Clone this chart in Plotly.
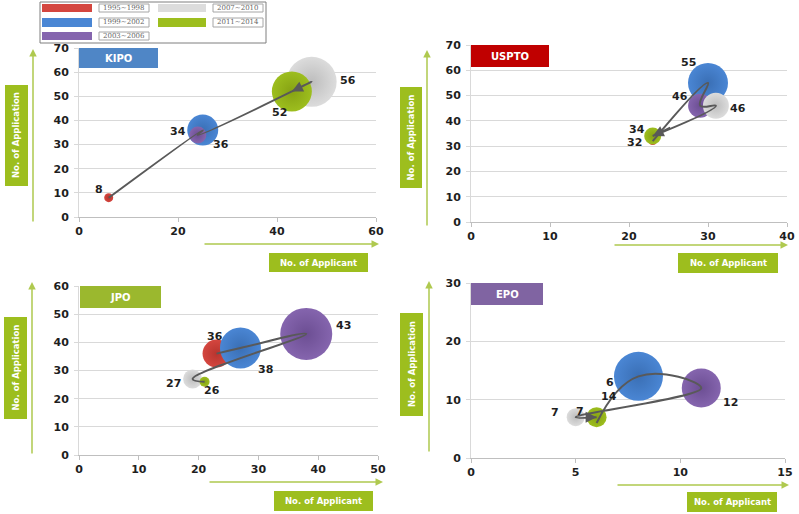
import plotly.graph_objects as go

W, H = 799, 514

# ---------------- data ----------------
periods = ["1995~1998", "1999~2002", "2003~2006", "2007~2010", "2011~2014"]
period_colors = ["#D4463F", "#4A86D4", "#8565AE", "#DCDCDC", "#9DBE1E"]
period_edges = ["#B8342E", "#3A6FB5", "#6C4E93", "#BDBDBD", "#86A213"]

offices = ["KIPO", "USPTO", "JPO", "EPO"]

kipo_applicants = [6, 25, 24, 47, 43]
kipo_applications = [8, 36, 34, 56, 52]
kipo_bubble = [9, 31, 17, 50, 40]

uspto_applicants = [23, 30, 29, 31, 23]
uspto_applications = [32, 55, 46, 46, 34]
uspto_bubble = [8, 40, 24, 26, 17]

jpo_applicants = [23, 27, 38, 19, 21]
jpo_applications = [36, 38, 43, 27, 26]
jpo_bubble = [28, 41, 52, 19, 10]

epo_applicants = [6, 8, 11, 5, 6]
epo_applications = [6, 14, 12, 7, 7]
epo_bubble = [6, 49, 39, 18, 20]

x_ranges = [[0, 60], [0, 40], [0, 50], [0, 15]]
x_dticks = [20, 10, 10, 5]
y_ranges = [[0, 70], [0, 70], [0, 60], [0, 30]]
y_dticks = [10, 10, 10, 10]

# ---------------- styling / layout helpers ----------------
def px(x):
    return x / W

def py(y):
    return 1 - y / H

panel_domains = [
    ([79, 376], [48, 217]),
    ([471, 787], [45, 222]),
    ([79, 378], [286, 455]),
    ([471, 785], [283, 458]),
]
title_boxes = [
    ([79, 158], [48, 68], "#4F86C6"),
    ([471, 549], [45, 67], "#C00000"),
    ([80, 161], [286, 308], "#9BB82E"),
    ([471, 543], [283, 305], "#8064A2"),
]
ytitle_boxes = [([5, 28], [85, 186]), ([400, 422], [87, 188]),
                ([4, 27], [317, 419]), ([400, 423], [313, 416])]
xtitle_boxes = [([269, 368], [253, 272]), ([678, 778], [253, 273]),
                ([274, 373], [491, 511]), ([687, 777], [492, 512])]
v_arrows = [(33, 223, 49), (427, 227, 50), (32, 455, 282), (429, 453, 281)]
h_arrows = [(244, 203, 379), (245, 613, 788), (482, 208, 383), (485, 616, 789)]

# label offsets in pixels (dx right, dy down)
label_offsets = [
    [(-10, -8), (18, 14), (-20, -3), (36, -1), (-12, 21)],
    [(-18, 1), (-20, -20), (-20, -9), (22, 3), (-16, -7)],
    [(-2, -17), (25, 22), (37, -8), (-19, 5), (7, 9)],
    [(13, -41), (-29, 20), (29, 14), (-21, -5), (-17, -6)],
]

panels = [
    (kipo_applicants, kipo_applications, kipo_bubble),
    (uspto_applicants, uspto_applications, uspto_bubble),
    (jpo_applicants, jpo_applications, jpo_bubble),
    (epo_applicants, epo_applications, epo_bubble),
]

TICKFONT = dict(family="DejaVu Sans", size=11, color="#1E1E1E", weight="bold")
LINE_COLOR = "#595959"
AX_GREEN = "#9DBE1E"
ARROW_GREEN = "#AFC94F"

fig = go.Figure()
annotations = []
shapes = []
layout_axes = {}


def text_ann(x, y, text, font, **kw):
    d = dict(x=x, y=y, xref="paper", yref="paper", text=text, showarrow=False,
             xanchor="center", yanchor="middle", font=font)
    d.update(kw)
    return d


for i, (xs, ys, bs) in enumerate(panels):
    n = i + 1
    xa = "x" if n == 1 else f"x{n}"
    ya = "y" if n == 1 else f"y{n}"
    for j in range(len(periods)):
        fig.add_trace(go.Scatter(
            x=[xs[j]], y=[ys[j]], xaxis=xa, yaxis=ya, mode="markers",
            name=periods[j], showlegend=False, hoverinfo="skip",
            marker=dict(size=[bs[j]], sizemode="diameter", sizeref=1,
                        color=period_colors[j], opacity=1,
                        gradient=dict(type="radial", color=period_edges[j]),
                        line=dict(width=0)),
            cliponaxis=False,
        ))
    fig.add_trace(go.Scatter(
        x=xs, y=ys, xaxis=xa, yaxis=ya, mode="lines", showlegend=False,
        hoverinfo="skip", line=dict(color=LINE_COLOR, width=2, shape="spline",
                                    smoothing=1.3),
        cliponaxis=False,
    ))
    # arrow head at the end of the path
    annotations.append(dict(
        x=xs[-1], y=ys[-1], xref=xa, yref=ya,
        ax=xs[-1] + 0.3 * (xs[-2] - xs[-1]), ay=ys[-1] + 0.3 * (ys[-2] - ys[-1]),
        axref=xa, ayref=ya, showarrow=True, arrowhead=2, arrowsize=1.1,
        arrowwidth=2, arrowcolor=LINE_COLOR, text="", standoff=0,
    ))
    # value labels
    for j in range(len(periods)):
        dx, dy = label_offsets[i][j]
        annotations.append(dict(
            x=xs[j], y=ys[j], xref=xa, yref=ya, text=str(ys[j]),
            showarrow=False, xshift=dx, yshift=-dy, xanchor="center",
            yanchor="middle",
            font=dict(family="DejaVu Sans", size=11, color="#1E1E1E", weight="bold"),
        ))

    (dx0, dx1), (dy0, dy1) = panel_domains[i]
    xkey = "xaxis" if n == 1 else f"xaxis{n}"
    ykey = "yaxis" if n == 1 else f"yaxis{n}"
    layout_axes[xkey] = dict(
        domain=[px(dx0), px(dx1)], anchor=ya, range=x_ranges[i], dtick=x_dticks[i],
        showgrid=False, zeroline=False, showline=True, linecolor="#BFBFBF",
        linewidth=1, ticks="outside", ticklen=4, tickcolor="#BFBFBF",
        tickfont=TICKFONT, fixedrange=True, automargin=False,
    )
    layout_axes[ykey] = dict(
        domain=[py(dy1), py(dy0)], anchor=xa, range=y_ranges[i], dtick=y_dticks[i],
        showgrid=True, gridcolor="#D9D9D9", gridwidth=1, zeroline=False,
        showline=True, linecolor="#D9D9D9", linewidth=1, ticks="outside",
        ticklen=4, tickcolor="#D9D9D9", tickfont=TICKFONT, fixedrange=True,
        ticklabelstandoff=3, automargin=False,
    )

    # office title box
    (bx0, bx1), (by0, by1), bcol = title_boxes[i]
    shapes.append(dict(type="rect", xref="paper", yref="paper",
                       x0=px(bx0), x1=px(bx1), y0=py(by1), y1=py(by0),
                       fillcolor=bcol, line=dict(width=0), layer="above"))
    annotations.append(text_ann(px((bx0 + bx1) / 2), py((by0 + by1) / 2), offices[i],
                                dict(family="DejaVu Sans", size=10, color="white",
                                     weight="bold")))
    # axis title boxes
    (vx0, vx1), (vy0, vy1) = ytitle_boxes[i]
    shapes.append(dict(type="rect", xref="paper", yref="paper",
                       x0=px(vx0), x1=px(vx1), y0=py(vy1), y1=py(vy0),
                       fillcolor=AX_GREEN, line=dict(width=0)))
    annotations.append(text_ann(px((vx0 + vx1) / 2), py((vy0 + vy1) / 2),
                                "No. of Application",
                                dict(family="DejaVu Sans", size=8.5, color="white",
                                     weight="bold"), textangle=-90))
    (hx0, hx1), (hy0, hy1) = xtitle_boxes[i]
    shapes.append(dict(type="rect", xref="paper", yref="paper",
                       x0=px(hx0), x1=px(hx1), y0=py(hy1), y1=py(hy0),
                       fillcolor=AX_GREEN, line=dict(width=0)))
    annotations.append(text_ann(px((hx0 + hx1) / 2), py((hy0 + hy1) / 2),
                                "No. of Applicant",
                                dict(family="DejaVu Sans", size=8.5, color="white",
                                     weight="bold")))
    # green axis arrows
    ax_x, ay_tail, ay_tip = v_arrows[i]
    annotations.append(dict(x=px(ax_x), y=py(ay_tip), xref="paper", yref="paper",
                            ax=0, ay=ay_tail - ay_tip, showarrow=True,
                            arrowhead=2, arrowsize=1, arrowwidth=1.5,
                            arrowcolor=ARROW_GREEN, text=""))
    hy, hx_tail, hx_tip = h_arrows[i]
    annotations.append(dict(x=px(hx_tip), y=py(hy), xref="paper", yref="paper",
                            ax=hx_tail - hx_tip, ay=0, showarrow=True,
                            arrowhead=2, arrowsize=1, arrowwidth=1.5,
                            arrowcolor=ARROW_GREEN, text=""))

# ---------------- custom legend ----------------
shapes.append(dict(type="rect", xref="paper", yref="paper",
                   x0=px(40), x1=px(266), y0=py(43), y1=py(2),
                   fillcolor="white", line=dict(color="#7F7F7F", width=1)))
legend_slots = [  # (swatch x0, x1, label box x0, x1, y0, y1)
    (42, 92, 99, 149, 4, 12),
    (42, 92, 99, 149, 18, 27),
    (42, 92, 99, 149, 32, 40),
    (158, 206, 213, 263, 4, 12),
    (158, 206, 213, 263, 18, 27),
]
for j, (sx0, sx1, lx0, lx1, ly0, ly1) in enumerate(legend_slots):
    shapes.append(dict(type="rect", xref="paper", yref="paper",
                       x0=px(sx0), x1=px(sx1), y0=py(ly1), y1=py(ly0),
                       fillcolor=period_colors[j], line=dict(width=0)))
    shapes.append(dict(type="rect", xref="paper", yref="paper",
                       x0=px(lx0), x1=px(lx1), y0=py(ly1), y1=py(ly0),
                       fillcolor="white", line=dict(color="#A6A6A6", width=1)))
    annotations.append(text_ann(px((lx0 + lx1) / 2), py((ly0 + ly1) / 2), periods[j],
                                dict(family="DejaVu Serif", size=7, color="#666666")))

fig.update_layout(
    width=W, height=H, margin=dict(l=0, r=0, t=0, b=0, pad=0, autoexpand=False),
    paper_bgcolor="white", plot_bgcolor="white",
    showlegend=False, annotations=annotations, shapes=shapes,
    **layout_axes,
)

fig.write_html("out.html", config={"displayModeBar": False},
               post_script="document.body.style.margin='0';"
                           "document.body.style.overflow='hidden';")
